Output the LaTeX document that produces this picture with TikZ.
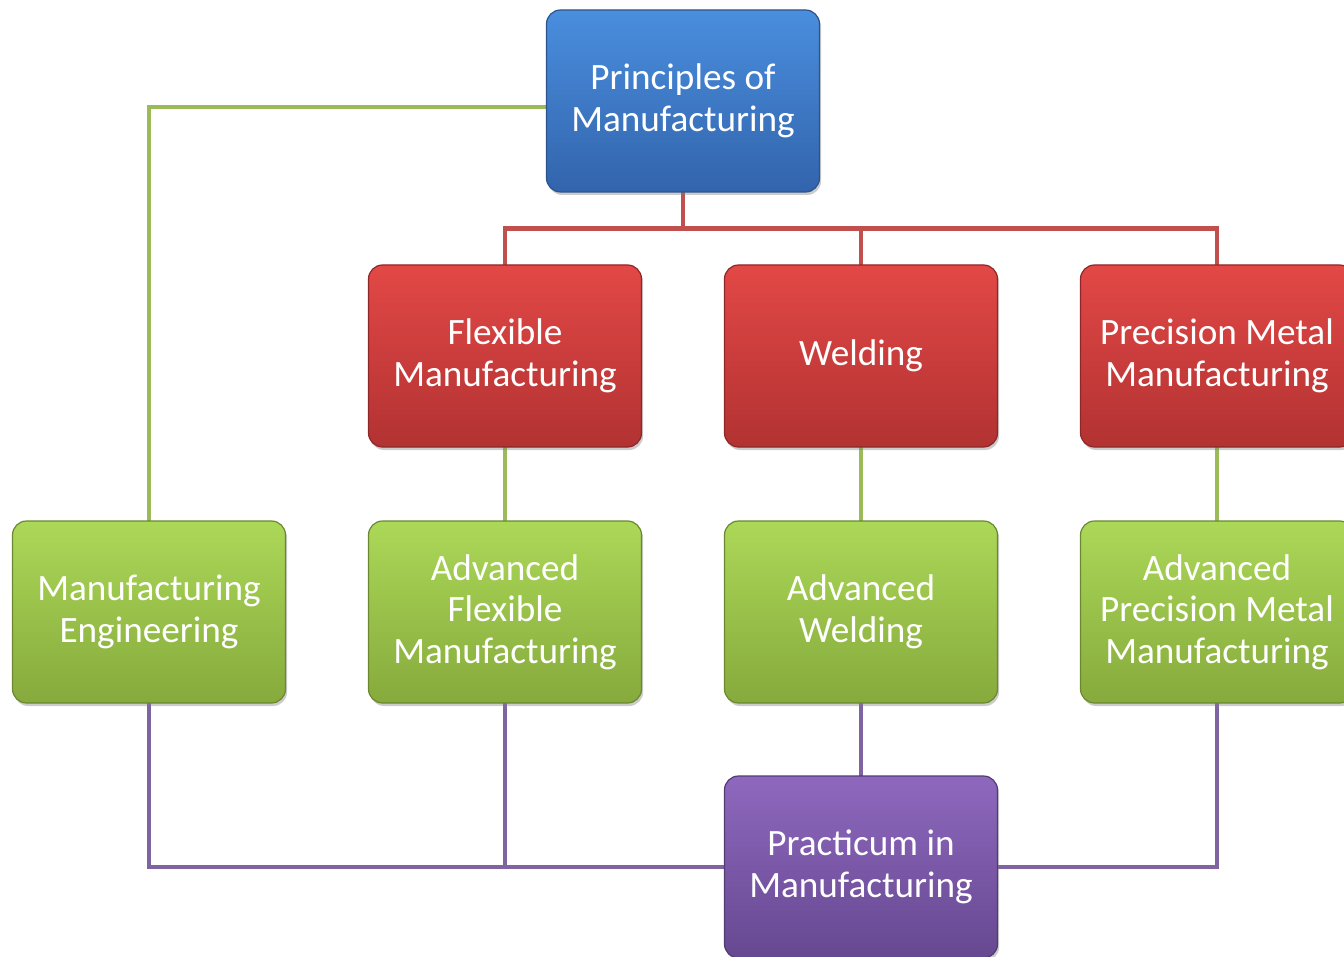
\documentclass[tikz,border=0pt]{standalone}
\usepackage{fontspec}
\setmainfont{Carlito}
\usepackage{xcolor}
\usepackage{tikz}
\usetikzlibrary{positioning}
\usetikzlibrary{backgrounds}
\usetikzlibrary{shadows}
\usetikzlibrary{calc}

\definecolor{blueTop}{RGB}{74,142,222}
\definecolor{blueBot}{RGB}{50,100,172}
\definecolor{blueLine}{RGB}{44,84,140}
\definecolor{redTop}{RGB}{226,72,70}
\definecolor{redBot}{RGB}{178,50,50}
\definecolor{redLine}{RGB}{192,80,77}
\definecolor{greenTop}{RGB}{172,216,88}
\definecolor{greenBot}{RGB}{134,170,60}
\definecolor{greenLine}{RGB}{155,187,89}
\definecolor{purpleTop}{RGB}{142,104,190}
\definecolor{purpleBot}{RGB}{102,72,144}
\definecolor{purpleLine}{RGB}{128,100,162}

\tikzset{
  box/.style={draw, line width=0.6pt, rounded corners=7pt, text=white, align=center,
    minimum width=136.5pt, minimum height=91pt, inner sep=2pt,
    font=\fontsize{18.6}{20.8}\selectfont, drop shadow={shadow xshift=0.8pt, shadow yshift=-1.5pt, opacity=0.4}},
  bluebox/.style={box, draw=blueLine, top color=blueTop, bottom color=blueBot},
  redbox/.style={box, draw=redBot!80!black, top color=redTop, bottom color=redBot},
  greenbox/.style={box, draw=greenBot!80!black, top color=greenTop, bottom color=greenBot},
  purplebox/.style={box, draw=purpleBot!80!black, top color=purpleTop, bottom color=purpleBot},
  link/.style={line width=2.2pt}
}

\begin{document}
\begin{tikzpicture}[x=0.5pt,y=-0.5pt,node distance=37pt and 41.5pt,outer sep=0pt]
\useasboundingbox (0,0) rectangle (1344,957);
\clip (0,0) rectangle (1344,957);

% Top
\node [bluebox] (principles) at (683,101) {Principles of\\Manufacturing};

% Row 1
\node [redbox] (flex) at (505,356) {Flexible\\Manufacturing};
\node [redbox, right=of flex] (weld) {Welding};
\node [redbox, right=of weld] (prec) {Precision Metal\\Manufacturing};

% Row 2
\node [greenbox, below=of flex] (advflex) {Advanced\\Flexible\\Manufacturing};
\node [greenbox, left=of advflex] (mfgeng) {Manufacturing\\Engineering};
\node [greenbox, below=of weld] (advweld) {Advanced\\Welding};
\node [greenbox, below=of prec] (advprec) {Advanced\\Precision Metal\\Manufacturing};

% Row 3
\node [purplebox, below=36.5pt of advweld] (practicum) {Practicum in\\Manufacturing};

\begin{scope}[on background layer]
% green links
\draw [link, greenLine] ([yshift=-3pt]principles.west) -| (mfgeng.north);
\draw [link, greenLine] (flex) -- (advflex);
\draw [link, greenLine] (weld) -- (advweld);
\draw [link, greenLine] (prec) -- (advprec);

% red links
\coordinate (bus) at ($(principles.south)!0.5!(principles.south |- flex.north)$);
\draw [link, redLine] (principles.south) -- (bus);
\draw [link, redLine] (flex.north) |- (bus) -| (prec.north);
\draw [link, redLine] (weld.north) -- (weld.north |- bus);

% purple links
\draw [link, purpleLine] (mfgeng.south) |- (practicum.west);
\draw [link, purpleLine] (advflex.south) -- (advflex.south |- practicum.west);
\draw [link, purpleLine] (advweld) -- (practicum);
\draw [link, purpleLine] (advprec.south) |- (practicum.east);
\end{scope}

\end{tikzpicture}
\end{document}
